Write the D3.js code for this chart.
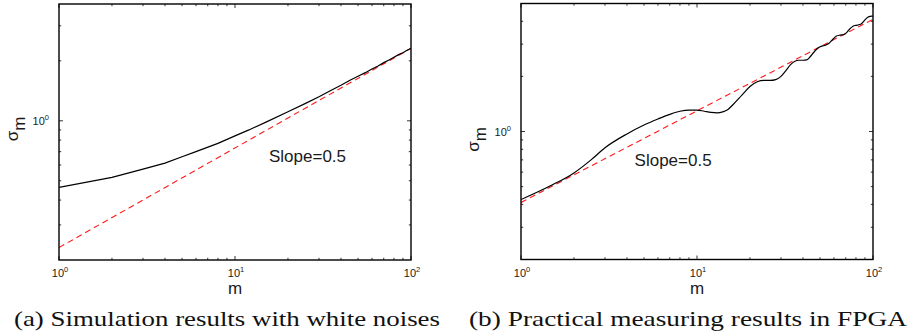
<!DOCTYPE html>
<html>
<head>
<meta charset="utf-8">
<script src="https://cdn.jsdelivr.net/npm/d3@7/dist/d3.min.js"></script>
<style>
body { margin: 0; background: #fff; }
svg text { font-family: "Liberation Sans", Arial, Helvetica, sans-serif; fill: #1a1a1a; }
svg text.caption { font-family: "Liberation Serif", "DejaVu Serif", serif; fill: #111; }
</style>
</head>
<body>
<svg id="chart" width="910" height="336"></svg>
<script>
// (a) simulation with white noise
var simM     = [1, 2, 3, 4, 5, 6, 8, 10, 12, 15, 20, 25, 30, 35, 40, 45, 50, 55, 60, 65, 70, 75, 80, 85, 90, 95, 100];
var simSigma = [0.463, 0.52, 0.572, 0.613, 0.66, 0.70, 0.77, 0.84, 0.90, 0.985, 1.11, 1.22, 1.32, 1.42, 1.51, 1.60, 1.675, 1.745, 1.82, 1.885, 1.96, 2.02, 2.085, 2.15, 2.195, 2.26, 2.31];

// (b) measured in FPGA
var fpgaM     = [1, 1.5, 2, 2.5, 3, 4, 5, 6, 7, 8, 9, 10, 11, 12, 13, 14, 15, 16, 18, 20, 22, 24, 26, 28, 30, 32, 34, 36, 38, 40, 42, 44, 46, 48, 50, 53, 56, 59, 62, 65, 68, 71, 74, 77, 80, 83, 86, 89, 92, 95, 98, 100];
var fpgaSigma = [0.425, 0.51, 0.594, 0.70, 0.815, 0.97, 1.085, 1.17, 1.24, 1.29, 1.31, 1.31, 1.29, 1.272, 1.265, 1.28, 1.32, 1.40, 1.58, 1.76, 1.87, 1.90, 1.90, 1.92, 2.00, 2.15, 2.32, 2.42, 2.45, 2.45, 2.46, 2.56, 2.70, 2.82, 2.90, 2.95, 3.02, 3.18, 3.32, 3.36, 3.38, 3.48, 3.64, 3.76, 3.80, 3.83, 3.88, 4.02, 4.16, 4.24, 4.27, 4.27];

// slope = 0.5 reference lines
var slopeM     = [1, 100];
var simSlope   = [0.231, 2.31];
var fpgaSlope  = [0.41, 4.1];

var xDomain    = [1, 100];
var simYDomain = [0.2, 3.86];
var fpgaYDomain = [0.2, 5];
var xMajor = [1, 10, 100];
var yMajor = [1];

var noteText = 'Slope=0.5';
var simNote  = [15.6, 0.62];
var fpgaNote = [4.42, 0.651];

var captions = ['(a) Simulation results with white noises', '(b) Practical measuring results in FPGA'];

var svg = d3.select('#chart');

function zip(a, b) {
    return a.map(function(v, i) { return [v, b[i]]; });
}

function expLabel(sel, v) {
    var e = Math.round(Math.log10(v));
    sel.append('tspan').text('10');
    sel.append('tspan')
        .attr('dy', -5)
        .style('font-size', '7.5px')
        .text(e);
}

function drawPanel(p, idx) {
    var g = svg.append('g').attr('transform', 'translate(' + p.left + ',' + p.top + ')');
    var w = p.width, h = p.height;

    var x = d3.scaleLog().domain(xDomain).range([0, w]);
    var y = d3.scaleLog().domain(p.yDomain).range([h, 0]);

    var xMinor = x.ticks().filter(function(t) { return xMajor.indexOf(t) < 0; });
    var yMinor = y.ticks().filter(function(t) { return yMajor.indexOf(t) < 0 && t > p.yDomain[0]; });

    var clipId = 'clip' + idx;
    g.append('clipPath').attr('id', clipId)
        .append('rect').attr('width', w).attr('height', h);

    // ticks on all four sides, pointing inwards
    var ticks = g.append('g').attr('stroke', '#000').attr('stroke-width', 0.8);
    function tickSet(vals, len) {
        vals.forEach(function(t) {
            var px = x(t);
            ticks.append('line').attr('x1', px).attr('x2', px).attr('y1', h).attr('y2', h - len);
            ticks.append('line').attr('x1', px).attr('x2', px).attr('y1', 0).attr('y2', len);
        });
    }
    function yTickSet(vals, len) {
        vals.forEach(function(t) {
            var py = y(t);
            ticks.append('line').attr('x1', 0).attr('x2', len).attr('y1', py).attr('y2', py);
            ticks.append('line').attr('x1', w).attr('x2', w - len).attr('y1', py).attr('y2', py);
        });
    }
    tickSet(xMinor, 2.2);
    tickSet(xMajor, 4);
    yTickSet(yMinor, 2.2);
    yTickSet(yMajor, 4);

    var plot = g.append('g').attr('clip-path', 'url(#' + clipId + ')');

    var line = d3.line()
        .x(function(d) { return x(d[0]); })
        .y(function(d) { return y(d[1]); });

    plot.append('path')
        .datum(zip(slopeM, p.slope))
        .attr('d', line)
        .attr('fill', 'none')
        .attr('stroke', '#ff1a1a')
        .attr('stroke-width', 1.1)
        .attr('stroke-dasharray', '6,4');

    plot.append('path')
        .datum(zip(p.m, p.sigma))
        .attr('d', line.curve(p.smooth ? d3.curveMonotoneX : d3.curveLinear))
        .attr('fill', 'none')
        .attr('stroke', '#000')
        .attr('stroke-width', 1.2);

    g.append('rect')
        .attr('width', w).attr('height', h)
        .attr('fill', 'none')
        .attr('stroke', '#000')
        .attr('stroke-width', 1.4);

    // tick labels
    xMajor.forEach(function(t) {
        g.append('text')
            .attr('x', x(t) + 1)
            .attr('y', h + 17)
            .attr('text-anchor', 'middle')
            .style('font-size', '11px')
            .call(expLabel, t);
    });
    yMajor.forEach(function(t) {
        g.append('text')
            .attr('x', -10)
            .attr('y', y(t) + 4)
            .attr('text-anchor', 'end')
            .style('font-size', '11px')
            .call(expLabel, t);
    });

    // axis labels
    g.append('text')
        .attr('x', w / 2)
        .attr('y', h + 34)
        .attr('text-anchor', 'middle')
        .style('font-size', '17px')
        .text('m');

    var yl = g.append('text')
        .attr('transform', 'translate(' + p.yLabelX + ',' + (y(1) + 8) + ') rotate(-90)')
        .attr('text-anchor', 'middle')
        .style('font-size', '17px');
    yl.append('tspan').text('σ');
    yl.append('tspan').attr('dy', 7).text('m');

    g.append('text')
        .attr('x', x(p.note[0]))
        .attr('y', y(p.note[1]))
        .style('font-size', '17px')
        .text(noteText);

    svg.append('text')
        .attr('class', 'caption')
        .attr('x', p.capX)
        .attr('y', 326)
        .attr('text-anchor', 'middle')
        .attr('textLength', p.capW)
        .attr('lengthAdjust', 'spacingAndGlyphs')
        .style('font-size', '21px')
        .text(p.caption);
}

var panels = [
    { left: 59, top: 4, width: 352, height: 256, yDomain: simYDomain, m: simM, sigma: simSigma,
      slope: simSlope, note: simNote, smooth: false, yLabelX: -41, caption: captions[0], capX: 227, capW: 426 },
    { left: 521, top: 3.5, width: 352, height: 256, yDomain: fpgaYDomain, m: fpgaM, sigma: fpgaSigma,
      slope: fpgaSlope, note: fpgaNote, smooth: true, yLabelX: -42, caption: captions[1], capX: 688, capW: 438 }
];

panels.forEach(drawPanel);
</script>
</body>
</html>
